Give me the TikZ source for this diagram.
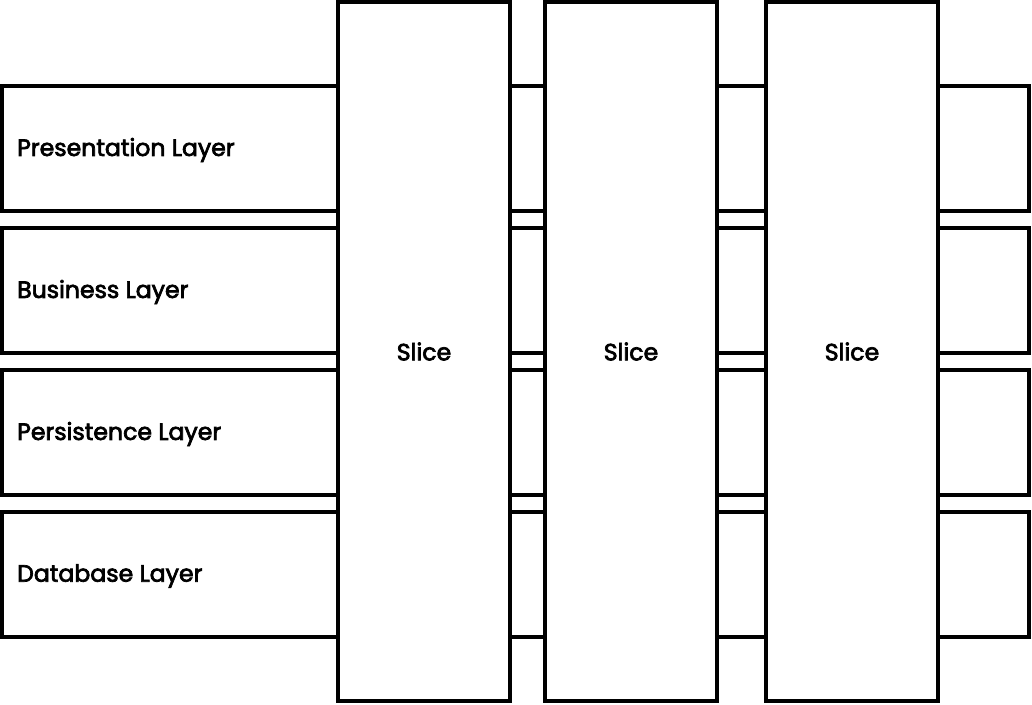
\documentclass[tikz,border=0pt]{standalone}
\usepackage{fontspec}
\setmainfont{Poppins}
\newfontfamily\medfont{Poppins}[FakeBold=3]
\begin{document}
\begin{tikzpicture}[x=1pt,y=-1pt,
  box/.style={draw=black,line width=3.5pt,fill=white},
  lbl/.style={font=\medfont\fontsize{23.6}{26}\selectfont,anchor=west,inner sep=0pt},
  slbl/.style={font=\medfont\fontsize{23.6}{26}\selectfont,inner sep=0pt}]
\useasboundingbox (0,0) rectangle (1032,704);
\foreach \n/\t/\y in {p/Presentation Layer/86, b/Business Layer/228, s/Persistence Layer/370, d/Database Layer/512}{
  \draw[box] (2,\y) rectangle (1029,\y+125);
  \node[lbl] (\n) at (17,\y+64) {\t};
}
\foreach \n/\x in {a/338, b/545, c/766}{
  \draw[box] (\x,2) rectangle (\x+172,701);
  \node[slbl] (sl\n) at (\x+86,351.5) {Slice};
}
\end{tikzpicture}
\end{document}
